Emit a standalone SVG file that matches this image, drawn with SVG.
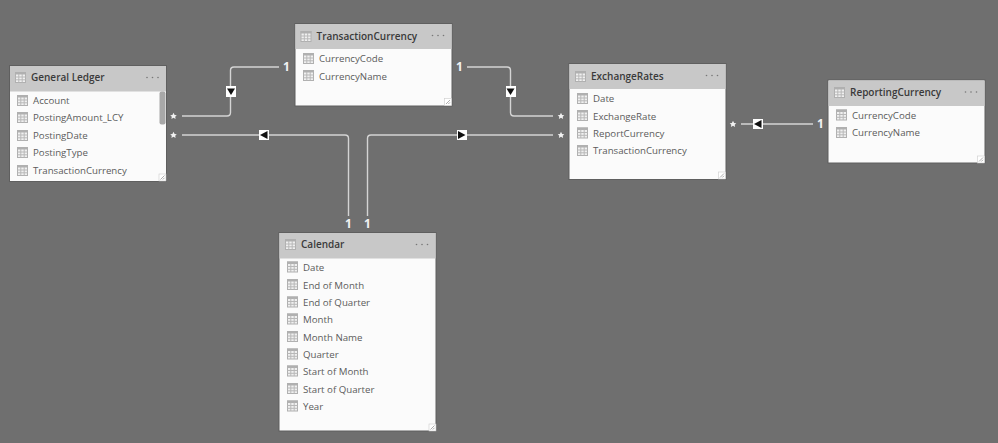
<svg xmlns="http://www.w3.org/2000/svg" width="998" height="443" viewBox="0 0 998 443">
  <style>
    .card { fill: #fbfbfb; stroke: #5f5f5f; stroke-width: 1; }
    .head { fill: #c8c8c8; }
    .title { font: 600 10px "Open Sans", "Noto Sans", sans-serif; fill: #3a3a3a; }
    .field { font: 400 9.7px "Open Sans", "Noto Sans", sans-serif; fill: #5c5c5c; }
    .dots { fill: #777; }
    .wire { fill: none; stroke: #d4d4d4; stroke-width: 1.4; }
    .one { font: 700 12px "Open Sans", "Noto Sans", sans-serif; fill: #f2f2f2; text-anchor: middle; }
    .star { fill: #f2f2f2; }
    .badge { fill: #fff; }
    .tri { fill: #111; }
    .grip { fill: none; stroke: #999; stroke-width: .8; }
    .gripbox { fill: #fff; stroke: #ccc; stroke-width: .6; }
    .ti-frame { fill: #f0f0f0; stroke: #b0b0b0; stroke-width: 1; }
    .ti-line { stroke: #b8b8b8; stroke-width: 1; fill: none; }
    .ti-top { fill: #b0b0b0; }
  </style>
  <defs>
    <!-- small grid glyph used for table and column rows -->
    <g id="grid">
      <rect class="ti-frame" x=".5" y=".5" width="10" height="10"/>
      <rect class="ti-top" x="0" y="0" width="11" height="2.5"/>
      <path class="ti-line" d="M3.8 2V10.500M7.2 2V10.500M.5 5H10.500M.5 7.800H10.500"/>
    </g>
    <g id="more" class="dots">
      <circle cx="0" cy="0" r=".8"/><circle cx="5.5" cy="0" r=".8"/><circle cx="11" cy="0" r=".8"/>
    </g>
    <g id="resize">
      <rect class="gripbox" x="0" y="0" width="7" height="7"/>
      <path class="grip" d="M1.5 5.5L5.5 1.5M3.8 5.5L5.5 3.8"/>
    </g>
    <path id="asterisk" class="star" d="M0-3.300L1.100-1.100L3.300-.8L1.700.7L2.100 3L0 1.800L-2.100 3L-1.700.7L-3.300-.8L-1.100-1.100Z"/>
  </defs>

  <rect width="998" height="443" fill="#6f6f6f"/>

  <g id="connectors">
    <path class="wire" d="M182 116H227Q230.500 116 230.500 112.500V70.500Q230.500 67 234 67H279"/>
    <path class="wire" d="M182 135H345Q348.500 135 348.500 138.500V216"/>
    <path class="wire" d="M367.500 216V138.500Q367.500 135 371 135H553"/>
    <path class="wire" d="M467 67H507Q510.500 67 510.500 70.500V112.500Q510.500 116 514 116H553"/>
    <path class="wire" d="M741 124H813"/>

    <use href="#asterisk" x="173.500" y="116"/>
    <use href="#asterisk" x="173.500" y="135"/>
    <use href="#asterisk" x="561" y="116"/>
    <use href="#asterisk" x="561" y="135"/>
    <use href="#asterisk" x="733" y="124"/>

    <text class="one" x="286.500" y="70.500">1</text>
    <text class="one" x="459.500" y="70.500">1</text>
    <text class="one" x="348.500" y="228">1</text>
    <text class="one" x="367.500" y="228">1</text>
    <text class="one" x="820.500" y="127.500">1</text>

    <rect class="badge" x="226" y="86" width="10" height="11"/>
    <path class="tri" d="M227 88.500H235L231 95Z"/>
    <rect class="badge" x="506" y="86" width="10" height="11"/>
    <path class="tri" d="M506.500 88.500H514.500L510.500 95Z"/>
    <rect class="badge" x="259" y="130" width="10" height="10"/>
    <path class="tri" d="M260 135L267.500 131V139Z"/>
    <rect class="badge" x="457" y="130" width="10" height="10"/>
    <path class="tri" d="M465.500 135L458 131V139Z"/>
    <rect class="badge" x="753" y="119" width="10" height="10"/>
    <path class="tri" d="M754 124L761.500 120V128Z"/>
  </g>

  <g id="general-ledger">
    <rect class="card" x="9.500" y="65.500" width="157" height="116"/>
    <rect class="head" x="10" y="66" width="156" height="25.500"/>
    <use href="#grid" x="15" y="72"/>
    <text class="title" x="31" y="81">General Ledger</text>
    <use href="#more" x="147" y="77.500"/>
    <use href="#grid" x="17" y="95"/><text class="field" x="33" y="104">Account</text>
    <use href="#grid" x="17" y="112"/><text class="field" x="33" y="121">PostingAmount_LCY</text>
    <use href="#grid" x="17" y="130"/><text class="field" x="33" y="139">PostingDate</text>
    <use href="#grid" x="17" y="147"/><text class="field" x="33" y="156">PostingType</text>
    <use href="#grid" x="17" y="165"/><text class="field" x="33" y="174">TransactionCurrency</text>
    <rect x="159.500" y="91.500" width="6" height="33" rx="2" fill="#a8a8a8"/>
    <use href="#resize" x="159" y="174"/>
  </g>

  <g id="transaction-currency">
    <rect class="card" x="295" y="23.500" width="157" height="82.500"/>
    <rect class="head" x="295.500" y="24" width="156" height="25"/>
    <use href="#grid" x="300.500" y="31"/>
    <text class="title" x="316.500" y="39.500">TransactionCurrency</text>
    <use href="#more" x="432.500" y="35.500"/>
    <use href="#grid" x="303" y="53"/><text class="field" x="319" y="62">CurrencyCode</text>
    <use href="#grid" x="303" y="70"/><text class="field" x="319" y="79.500">CurrencyName</text>
    <use href="#resize" x="444.500" y="98.500"/>
  </g>

  <g id="exchange-rates">
    <rect class="card" x="569" y="63.500" width="157" height="116"/>
    <rect class="head" x="569.500" y="64" width="156" height="25"/>
    <use href="#grid" x="575" y="71"/>
    <text class="title" x="591" y="79.500">ExchangeRates</text>
    <use href="#more" x="706.500" y="75.500"/>
    <use href="#grid" x="577" y="93"/><text class="field" x="593" y="102">Date</text>
    <use href="#grid" x="577" y="110"/><text class="field" x="593" y="119.500">ExchangeRate</text>
    <use href="#grid" x="577" y="127.500"/><text class="field" x="593" y="137">ReportCurrency</text>
    <use href="#grid" x="577" y="145"/><text class="field" x="593" y="154">TransactionCurrency</text>
    <use href="#resize" x="718.500" y="172"/>
  </g>

  <g id="reporting-currency">
    <rect class="card" x="828" y="80" width="157" height="83"/>
    <rect class="head" x="828.500" y="80.500" width="156" height="25.500"/>
    <use href="#grid" x="834" y="87"/>
    <text class="title" x="850" y="96">ReportingCurrency</text>
    <use href="#more" x="965.500" y="92"/>
    <use href="#grid" x="836" y="109.500"/><text class="field" x="852" y="118.500">CurrencyCode</text>
    <use href="#grid" x="836" y="127"/><text class="field" x="852" y="136">CurrencyName</text>
    <use href="#resize" x="977.500" y="156"/>
  </g>

  <g id="calendar">
    <rect class="card" x="279" y="232.500" width="157" height="198.500"/>
    <rect class="head" x="279.500" y="233" width="156" height="25.500"/>
    <use href="#grid" x="285" y="239"/>
    <text class="title" x="301" y="248">Calendar</text>
    <use href="#more" x="416.500" y="244.500"/>
    <use href="#grid" x="287" y="261.500"/><text class="field" x="303" y="271">Date</text>
    <use href="#grid" x="287" y="279"/><text class="field" x="303" y="288.500">End of Month</text>
    <use href="#grid" x="287" y="296.500"/><text class="field" x="303" y="306">End of Quarter</text>
    <use href="#grid" x="287" y="313.500"/><text class="field" x="303" y="323">Month</text>
    <use href="#grid" x="287" y="331"/><text class="field" x="303" y="340.500">Month Name</text>
    <use href="#grid" x="287" y="348.500"/><text class="field" x="303" y="358">Quarter</text>
    <use href="#grid" x="287" y="365.500"/><text class="field" x="303" y="375">Start of Month</text>
    <use href="#grid" x="287" y="383"/><text class="field" x="303" y="392.500">Start of Quarter</text>
    <use href="#grid" x="287" y="400.500"/><text class="field" x="303" y="410">Year</text>
    <use href="#resize" x="429" y="424"/>
  </g>
</svg>
